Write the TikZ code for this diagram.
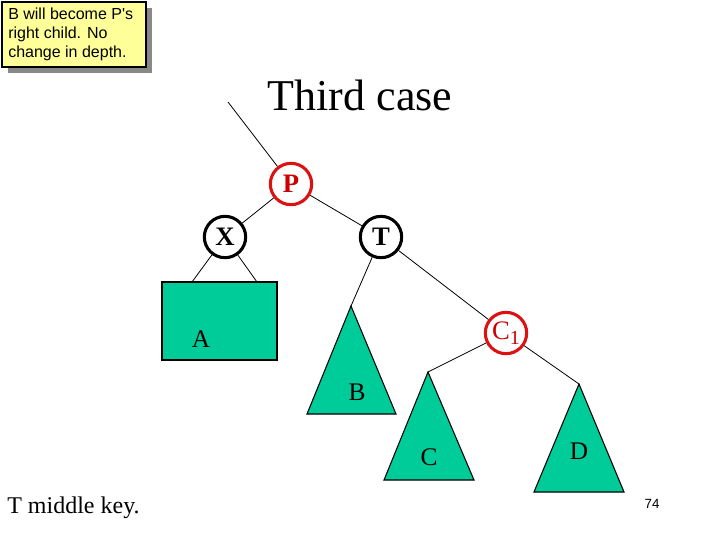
\documentclass[tikz,border=0pt]{standalone}
\usepackage{fontspec}
\setmainfont{Liberation Serif}
\newfontfamily\arialf{Liberation Sans}
\definecolor{treegreen}{HTML}{00CC99}
\definecolor{noteyellow}{HTML}{FFFF99}
\definecolor{nodered}{HTML}{DD1111}
\definecolor{labelred}{HTML}{CC0000}
\definecolor{shadowgray}{HTML}{888888}
\begin{document}
\begin{tikzpicture}[x=0.75pt,y=-0.75pt,
  circ/.style={circle,draw=black,line width=2.3pt,minimum size=31pt,inner sep=0pt,font=\fontsize{20}{22}\selectfont\bfseries},
  redcirc/.style={circ,draw=nodered,text=labelred},
  edge/.style={line width=0.6pt},
  subtree/.style={fill=treegreen,draw=black,line width=0.8pt},
  lbl/.style={inner sep=0pt,font=\fontsize{19}{21}\selectfont}]
\useasboundingbox (0,0) rectangle (720,540);
% note
\fill[shadowgray] (8,8) rectangle (152,73);
\draw[fill=noteyellow,line width=0.8pt] (2,2) rectangle (146,67);
\node[anchor=base west,inner sep=0pt,align=left,font=\arialf\fontsize{12}{14.25}\selectfont] (note) at (8,57) {B will become P's\\right child. No\\change in depth.};
% title
\node[inner sep=0pt,font=\fontsize{33}{38}\selectfont] (title) at (360,95) {Third case};
% nodes
\node[redcirc] (P) at (291,184) {P};
\node[circ] (X) at (225,237) {X};
\node[circ] (T) at (381,237) {T};
\node[redcirc,font=\fontsize{20}{22}\selectfont] (C1) at (506,333) {C\raisebox{-0.45ex}{\fontsize{15}{15}\selectfont 1}};
% subtree A
\node[subtree,rectangle,minimum width=86.25pt,minimum height=58.5pt,inner sep=0pt] (Abox) at (219.5,321) {};
\coordinate (Al) at (192,282);
\coordinate (Ar) at (257,282);
\node[lbl] (A) at (201,339) {A};
% subtree B
\coordinate (Btop) at (351,306);
\draw[subtree] (Btop) -- (396,414) -- (307,414) -- cycle;
\node[lbl] (B) at (357,392) {B};
% subtree C
\coordinate (Ctop) at (428,372);
\draw[subtree] (Ctop) -- (474,480) -- (384,480) -- cycle;
\node[lbl] (C) at (429,457) {C};
% subtree D
\coordinate (Dtop) at (579,384);
\draw[subtree] (Dtop) -- (624,492) -- (534,492) -- cycle;
\node[lbl] (D) at (579,451) {D};
% connectors
\coordinate (parent) at (228,102);
\draw[edge] (parent) -- (P);
\draw[edge] (P) -- (X);
\draw[edge] (P) -- (T);
\draw[edge] (X) -- (Al);
\draw[edge] (X) -- (Ar);
\draw[edge] (T) -- (Btop);
\draw[edge] (T) -- (C1);
\draw[edge] (C1) -- (Ctop);
\draw[edge] (C1) -- (Dtop);
% bottom texts
\node[anchor=base west,inner sep=0pt,font=\fontsize{18}{20}\selectfont] (key) at (7,513) {T middle key.};
\node[inner sep=0pt,font=\arialf\fontsize{10}{12}\selectfont] (page) at (652,504) {74};
\end{tikzpicture}
\end{document}
